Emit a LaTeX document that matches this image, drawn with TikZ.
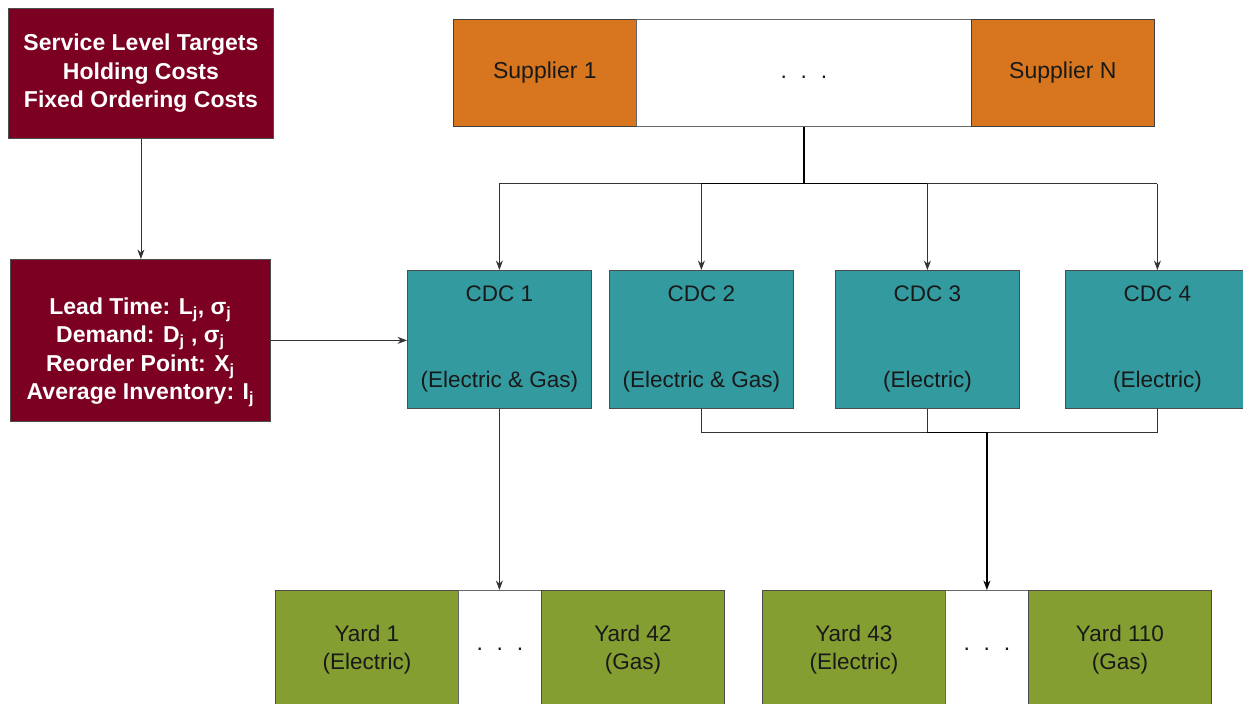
\documentclass[tikz,border=0pt]{standalone}
\usepackage{fontspec}
\setmainfont{Liberation Sans}
\usepackage{tikz}
\usetikzlibrary{arrows.meta,positioning}
\definecolor{Wine}{RGB}{123,0,34}
\definecolor{Pumpkin}{RGB}{215,118,30}
\definecolor{Lagoon}{RGB}{51,155,160}
\definecolor{Moss}{RGB}{132,158,50}

\begin{document}
\begin{tikzpicture}[x=1pt,y=-1pt,
       >={Stealth[length=9.5pt,width=7pt]}, black!80, text=black!90, line width=0.8pt,
       every node/.style={font=\fontsize{23}{27}\selectfont, inner sep=0pt},
       infobox/.style={draw=black!70, fill=Wine, anchor=north west},
       infotext/.style={text=white, align=center,
                        font=\bfseries\fontsize{23}{28.5}\selectfont},
       supbox/.style={draw=black!75, fill=Pumpkin, anchor=north west,
                      minimum width=183pt, minimum height=107pt},
       gapbox/.style 2 args={draw=black!60, fill=white, anchor=north west,
                      minimum width=#1, minimum height=#2},
       cdcbox/.style={draw=black!70, fill=Lagoon, anchor=north west, align=center,
                      minimum width=184pt, minimum height=138pt,
                      font=\fontsize{22.5}{86}\selectfont},
       yardbox/.style={draw=black!70, fill=Moss, anchor=north west, align=center,
                       minimum width=183pt, minimum height=118pt,
                       font=\fontsize{22.5}{28}\selectfont}]
    \useasboundingbox (0,0) rectangle (1243,704);

	%% Cost inputs and inventory parameters
	\node[infobox, minimum width=265pt, minimum height=130pt] (targets) at (8,8) {};
	\node[infotext] (targetstext) at (targets.center)
		{Service Level Targets\\Holding Costs\\Fixed Ordering Costs};
	\node[infobox, minimum width=260pt, minimum height=162pt] (params) at (10,259) {};
	\node[infotext] (paramstext) at ([yshift=-12pt]params.center)
		{Lead Time: L\textsubscript{j}, σ\textsubscript{j}\\
		 Demand: D\textsubscript{j} , σ\textsubscript{j}\\
		 Reorder Point: X\textsubscript{j}\\
		 Average Inventory: I\textsubscript{j}};

	%% Supplier row
	\node[supbox] (sup1) at (453,19) {Supplier 1};
	\node[gapbox={335pt}{107pt}] (supdots) at (636,19) {\strut.\hspace{0.6em}.\hspace{0.6em}.};
	\node[supbox] (supN) at (971,19) {Supplier N};

	%% Central distribution centres
	\node[cdcbox] (cdc1) at (407,270) {CDC 1\\(Electric \& Gas)};
	\node[cdcbox] (cdc2) at (609,270) {CDC 2\\(Electric \& Gas)};
	\node[cdcbox] (cdc3) at (835,270) {CDC 3\\(Electric)};
	\node[cdcbox] (cdc4) at (1065,270) {CDC 4\\(Electric)};

	%% Yards, in two groups
	\node[yardbox] (yard1) at (275,590) {Yard 1\\(Electric)};
	\node[gapbox={83pt}{118pt}] (ydots1) at (458,590) {.\hspace{0.6em}.\hspace{0.6em}.};
	\node[yardbox] (yard42) at (541,590) {Yard 42\\(Gas)};
	\node[yardbox] (yard43) at (762,590) {Yard 43\\(Electric)};
	\node[gapbox={83pt}{118pt}] (ydots2) at (945,590) {.\hspace{0.6em}.\hspace{0.6em}.};
	\node[yardbox] (yard110) at (1028,590) {Yard 110\\(Gas)};

	%% Connectors
	\draw[->] (targets.south) -- (targets.south |- params.north);
	\draw[->] (params.east) -- (params.east -| cdc1.west);

	\coordinate (split) at ([yshift=-57pt]supdots.south);
	\draw[line width=1.3pt, black] (supdots.south) -- (split);
	\draw (cdc1.north |- split) -- (cdc4.north |- split);
	\draw[line width=1.1pt, black] (cdc2.north |- split) -- (cdc3.north |- split);
	\foreach \c in {cdc1,cdc2,cdc3,cdc4}
		\draw[->] (\c.north |- split) -- (\c.north);

	\draw[->] (cdc1.south) -- (cdc1.south |- ydots1.north);

	\coordinate (join) at ([yshift=-24pt]cdc3.south -| ydots2.north);
	\draw (cdc2.south) |- (cdc4.south |- join) -- (cdc4.south);
	\draw (cdc3.south) -- (cdc3.south |- join);
	\draw[->, line width=1.3pt, black] (cdc3.south |- join) -- (join) -- (ydots2.north);
\end{tikzpicture}
\end{document}
